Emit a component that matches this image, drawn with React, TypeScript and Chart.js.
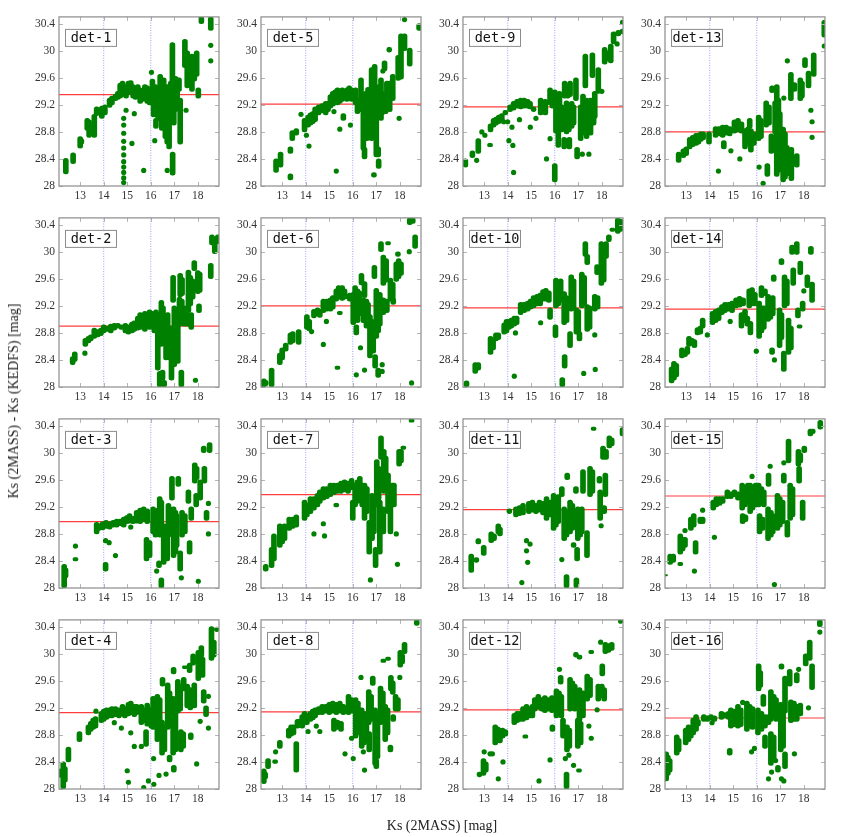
import React, { useEffect, useRef } from 'react';
import Chart from 'chart.js/auto';

// ---------------- data ----------------
const panelNames = ['det-1', 'det-2', 'det-3', 'det-4', 'det-5', 'det-6', 'det-7', 'det-8',
  'det-9', 'det-10', 'det-11', 'det-12', 'det-13', 'det-14', 'det-15', 'det-16'];
const offsetLevels = [29.35, 28.9, 28.98, 29.13, 29.21, 29.2, 29.38, 29.14,
  29.17, 29.17, 29.16, 29.17, 28.8, 29.15, 29.36, 29.05];
const xTickValues = [13, 14, 15, 16, 17, 18];
const yTickValues = [28, 28.4, 28.8, 29.2, 29.6, 30, 30.4];
const guideMags = [14, 16];
const xRange = [12.1, 18.9];
const yRange = [28, 30.5];

// entries: [Ks, low, high] for a run of stars at one magnitude, [Ks, offset] for a single star
const det1 = [
  [12.39, 28.18, 28.41], [12.7, 28.33, 28.49], [13.0, 28.56, 28.73], [13.05, 28.62, 28.7],
  [13.3, 28.82, 29.0], [13.38, 28.72, 28.98], [13.6, 28.72, 29.06], [13.7, 29.04, 29.17],
  [13.92, 29.0, 29.18], [14.05, 29.05, 29.2], [14.25, 29.16, 29.3], [14.35, 29.2, 29.33], [14.5, 29.26, 29.36], [14.6, 29.28, 29.4],
  [14.7, 29.3, 29.52], [14.8, 29.32, 29.55], [14.95, 29.3, 29.5], [15.05, 29.35, 29.55], [15.15, 29.38, 29.56], [15.25, 29.3, 29.5], [15.35, 29.28, 29.46], [15.45, 29.3, 29.5],
  [15.55, 29.22, 29.45], [15.65, 29.25, 29.42], [15.75, 29.28, 29.5], [15.85, 29.22, 29.48], [15.95, 29.2, 29.38],
  [14.85, 28.05], [14.85, 28.12], [14.85, 28.2], [14.85, 28.28], [14.85, 28.36], [14.85, 28.46], [14.85, 28.56], [14.85, 28.66], [14.85, 28.78], [14.85, 28.9], [14.85, 29.0],
  [14.95, 29.12], [15.2, 28.63], [15.3, 29.07], [15.7, 28.23],
  [16.03, 29.68], [16.07, 29.35, 29.58], [16.12, 29.02, 29.45], [16.2, 29.1, 29.5], [16.3, 29.0, 29.4], [16.17, 28.67], [16.22, 28.85, 29.0],
  [16.4, 28.96, 29.65], [16.47, 28.82, 29.55], [16.55, 29.0, 29.6], [16.62, 28.7, 29.45], [16.7, 28.62, 29.5], [16.78, 28.55, 29.3], [16.85, 29.1, 29.55],
  [16.92, 29.3, 30.12], [16.93, 28.16, 28.5], [16.7, 28.23], [16.98, 28.9, 29.4], [17.05, 29.1, 29.62], [17.12, 29.25, 29.55], [17.25, 28.62, 29.3], [17.2, 29.4, 29.6],
  [17.5, 29.12], [17.45, 29.75, 30.17], [17.55, 29.45, 30.0], [17.65, 29.5, 29.85], [17.75, 29.4, 29.95], [17.85, 29.55, 29.9], [17.95, 29.62, 30.0], [18.02, 29.3, 29.45],
  [18.15, 30.4, 30.5], [18.55, 30.3, 30.5], [18.55, 30.08], [18.55, 29.85],
];
const det2 = [
  [12.68, 28.33, 28.45], [12.77, 28.38, 28.52], [13.2, 28.5], [13.22, 28.6, 28.72], [13.35, 28.65, 28.75], [13.45, 28.68, 28.77],
  [13.6, 28.72, 28.87], [13.75, 28.74, 28.85], [13.88, 28.76, 28.87], [14.0, 28.8, 28.92], [14.15, 28.82, 28.9], [14.3, 28.8, 28.93], [14.45, 28.84, 28.94], [14.6, 28.87, 28.94], [14.75, 28.85, 28.92],
  [14.92, 28.8, 28.94], [15.05, 28.78, 28.92], [15.2, 28.8, 28.96], [15.3, 28.82, 28.98], [15.45, 28.84, 29.05], [15.55, 28.85, 29.1], [15.65, 28.86, 29.08], [15.75, 28.82, 29.12], [15.85, 28.88, 29.1], [15.95, 28.85, 29.14], [16.05, 28.9, 29.12],
  [16.15, 28.8, 29.1], [16.22, 28.85, 29.14], [16.3, 28.25, 29.1], [16.38, 28.0, 28.23], [16.45, 28.6, 29.28], [16.52, 28.75, 29.2], [16.5, 28.1, 28.25], [16.57, 28.0, 28.1],
  [16.65, 28.4, 29.0], [16.72, 28.55, 29.1], [16.8, 28.4, 28.9], [16.88, 28.1, 28.9], [16.95, 29.25, 29.65], [17.0, 28.3, 29.2], [17.07, 28.5, 29.15], [17.15, 28.35, 29.0],
  [17.25, 29.33, 29.68], [17.33, 29.35, 29.62], [17.3, 28.0, 28.25], [17.22, 28.9, 29.33], [17.32, 28.95, 29.3], [17.42, 28.9, 29.2], [17.55, 28.9, 29.1],
  [17.6, 29.1, 29.73], [17.68, 29.2, 29.65], [17.72, 28.85, 29.1], [17.78, 29.3, 29.6], [17.85, 29.72, 29.87], [17.9, 28.1], [18.0, 29.38, 29.72], [18.08, 29.4, 29.7], [18.05, 29.1, 29.23],
  [18.55, 29.6, 29.83], [18.6, 30.1, 30.25], [18.72, 29.97, 30.22], [18.85, 30.12, 30.25],
];
const det3 = [
  [12.32, 28.0, 28.35], [12.38, 28.15, 28.3], [12.8, 28.62], [12.8, 28.4, 28.45],
  [13.7, 28.8, 28.97], [13.8, 28.85, 28.95], [13.95, 28.86, 28.98], [14.1, 28.88, 29.0], [14.25, 28.87, 28.98], [14.4, 28.9, 29.0], [14.08, 28.7], [14.23, 28.67], [14.08, 28.25, 28.38], [14.5, 28.48],
  [14.55, 28.9, 29.02], [14.7, 28.92, 29.02], [14.85, 28.9, 29.05], [14.98, 28.95, 29.07], [15.1, 28.96, 29.1], [15.25, 28.95, 29.06], [15.15, 28.9],
  [15.4, 28.96, 29.15], [15.55, 28.95, 29.18], [15.7, 28.98, 29.2], [15.85, 28.95, 29.17], [15.82, 28.4, 28.75], [15.95, 28.45, 28.7],
  [16.1, 28.8, 29.2], [16.2, 28.75, 29.1], [16.3, 28.85, 29.18], [16.25, 28.25], [16.38, 28.75, 29.35], [16.45, 28.8, 29.3], [16.45, 28.0, 28.15], [16.35, 28.3, 28.4],
  [16.55, 28.35, 28.95], [16.62, 28.5, 28.9], [16.7, 28.4, 28.95], [16.75, 28.75, 29.25], [16.82, 28.8, 29.2], [16.9, 29.3, 29.65], [16.97, 28.45, 29.2], [17.05, 28.5, 29.15], [17.1, 28.6, 29.1],
  [17.17, 29.5, 29.65], [17.25, 28.25, 28.55], [17.3, 28.15], [17.33, 28.75, 29.15], [17.45, 28.8, 29.1], [17.6, 29.25, 29.45], [17.65, 28.5, 28.7], [17.72, 29.0, 29.2],
  [17.87, 29.55, 29.85], [17.95, 29.6, 29.8], [17.93, 29.2, 29.4], [18.02, 28.1], [18.1, 29.3, 29.6], [18.25, 30.0, 30.1], [18.28, 29.55, 29.8], [18.37, 29.0, 29.15], [18.45, 29.25], [18.45, 28.8], [18.5, 30.0, 30.15],
];
const det4 = [
  [12.1, 28.17, 28.3], [12.28, 28.0, 28.4], [12.35, 28.1, 28.33], [12.5, 28.4, 28.62], [12.97, 28.7, 28.85],
  [13.35, 28.8, 28.95], [13.45, 28.85, 29.0], [13.55, 28.88, 29.05], [13.65, 28.9, 29.07], [13.67, 29.15],
  [13.9, 28.98, 29.15], [14.0, 29.0, 29.18], [14.12, 29.03, 29.2], [14.25, 29.05, 29.2], [14.35, 29.05, 29.22], [14.45, 28.98], [14.5, 29.07, 29.22], [14.65, 29.05, 29.2], [14.75, 28.9], [14.8, 29.08, 29.25], [14.9, 29.05, 29.22],
  [15.0, 28.27], [15.05, 28.1], [15.15, 28.83], [15.05, 29.08, 29.28], [15.15, 29.1, 29.3], [15.3, 29.07, 29.25], [15.4, 29.1, 29.25], [15.3, 28.63], [15.6, 28.63],
  [15.6, 28.95, 29.25], [15.7, 28.98, 29.2], [15.8, 28.63, 28.88], [15.85, 28.93, 29.27], [15.95, 28.95, 29.2], [15.7, 28.02], [15.9, 28.12],
  [16.02, 28.9, 29.2], [16.1, 28.88, 29.37], [16.2, 28.95, 29.3], [16.12, 28.45], [16.13, 28.07], [16.28, 28.7, 29.4], [16.38, 28.8, 29.35], [16.35, 28.2], [16.5, 29.52, 29.65],
  [16.48, 28.5, 29.02], [16.58, 28.55, 28.95], [16.65, 28.22], [16.72, 28.88, 29.57], [16.8, 28.9, 29.45], [16.8, 28.4, 28.5], [16.97, 29.7, 29.8], [16.98, 28.25, 28.35],
  [16.95, 28.5, 29.37], [17.05, 28.55, 29.3], [17.15, 29.12, 29.62], [17.25, 29.15, 29.55], [17.28, 28.55, 28.88], [17.38, 28.6, 28.85], [17.4, 29.45, 29.65], [17.45, 29.78, 29.82],
  [17.55, 29.2, 29.55], [17.65, 29.72, 29.86], [17.68, 29.17, 29.5], [17.7, 28.73, 28.83], [17.8, 29.83, 30.0], [17.85, 29.2, 29.57], [17.95, 28.37],
  [18.02, 29.6, 30.05], [18.1, 29.0], [18.15, 29.95, 30.12], [18.2, 29.65, 29.95], [18.25, 29.27, 29.47], [18.35, 29.07, 29.23], [18.45, 29.37], [18.45, 28.9], [18.58, 29.9, 30.4], [18.68, 29.95, 30.2], [18.8, 30.36],
];
const det5 = [
  [12.74, 28.2, 28.4], [12.93, 28.28, 28.5], [13.35, 28.48, 28.58], [13.35, 28.09, 28.18], [13.43, 28.67, 28.82], [13.6, 28.75, 28.85], [13.8, 29.06],
  [13.95, 28.8, 29.0], [14.03, 28.75], [14.14, 28.59], [14.1, 28.87, 29.05], [14.2, 28.9, 29.08], [14.3, 28.92, 29.1], [14.4, 28.95, 29.17],
  [14.55, 29.05, 29.2], [14.7, 29.08, 29.22], [14.85, 29.05, 29.25], [14.95, 29.1, 29.25],
  [15.05, 29.15, 29.35], [15.15, 29.18, 29.4], [15.2, 29.1], [15.25, 29.2, 29.42], [15.35, 29.2, 29.45], [15.45, 29.22, 29.4], [15.55, 29.25, 29.45], [15.3, 28.22], [15.45, 28.84], [15.6, 28.97, 29.07],
  [15.75, 29.25, 29.45], [15.85, 29.28, 29.48], [15.95, 29.25, 29.45], [16.05, 29.25, 29.42], [16.12, 29.2, 29.45], [15.9, 28.9],
  [16.2, 29.07, 29.3], [16.35, 29.1, 29.6], [16.45, 28.53, 29.26], [16.5, 28.4, 28.57], [16.55, 29.0, 29.4], [16.6, 28.67, 29.26], [16.65, 29.1, 29.46], [16.72, 28.8, 29.3],
  [16.8, 28.67, 29.75], [16.88, 28.97, 29.56], [16.93, 29.07, 29.8], [17.0, 28.43, 29.1], [17.08, 28.43, 28.58], [17.1, 28.26, 28.4], [16.9, 28.13, 28.2], [17.1, 29.0, 29.5],
  [17.2, 28.97, 29.6], [17.25, 29.05, 29.4], [17.28, 29.7], [17.35, 29.7, 29.85], [17.4, 29.07, 29.36], [17.45, 29.3, 29.55], [17.55, 29.98, 30.05], [17.57, 29.1, 29.55], [17.7, 29.26, 29.65],
  [17.93, 29.56, 29.93], [17.97, 29.0], [18.05, 29.58, 30.25], [18.2, 30.0, 30.25], [18.42, 29.77, 30.04], [18.2, 30.46], [18.82, 30.3, 30.4],
];
const det6 = [
  [12.22, 28.0, 28.12], [12.3, 28.02, 28.1], [12.55, 28.0, 28.28], [12.9, 28.33, 28.5], [13.0, 28.4, 28.58], [13.15, 28.53, 28.65], [13.35, 28.63, 28.8], [13.45, 28.65, 28.82], [13.7, 28.63, 28.85],
  [14.05, 28.85, 29.07], [14.15, 28.83, 29.0], [14.25, 28.82], [14.35, 29.02, 29.15], [14.5, 29.05, 29.17], [14.6, 29.03, 29.15], [14.75, 28.63], [14.88, 28.97],
  [14.75, 29.1, 29.3], [14.9, 29.12, 29.3], [15.05, 29.12, 29.32], [15.15, 29.15, 29.35], [15.3, 29.27, 29.45], [15.4, 29.3, 29.5], [15.55, 29.28, 29.5], [15.65, 29.3, 29.45], [15.35, 28.26, 28.31], [15.45, 29.07, 29.12],
  [15.87, 29.27, 29.39], [16.02, 28.92, 29.4], [16.1, 29.0, 29.5], [16.2, 28.95, 29.45], [16.28, 29.05, 29.42], [16.15, 28.77, 28.92], [16.33, 28.58], [16.37, 29.51, 29.68], [16.15, 28.18],
  [16.45, 28.95, 29.32], [16.5, 29.32, 29.56], [16.58, 28.87, 29.3], [16.65, 28.95, 29.25], [16.5, 28.25],
  [16.73, 28.43, 29.07], [16.82, 28.6, 29.0], [16.87, 28.5, 28.95], [16.95, 28.28, 28.48], [16.92, 29.6, 29.8], [17.0, 28.72, 29.46], [17.08, 28.8, 29.3], [17.15, 28.9, 29.4], [17.08, 28.14, 28.28],
  [17.25, 28.23], [17.25, 28.33], [17.2, 30.0, 30.15], [17.3, 29.5, 29.95], [17.42, 29.55, 29.9], [17.3, 29.07, 29.32], [17.45, 29.1, 29.3], [17.5, 30.1, 30.15],
  [17.6, 29.27, 29.61], [17.7, 29.3, 29.55], [17.72, 29.22, 29.32], [17.85, 29.56, 29.85], [17.95, 29.6, 29.9], [18.05, 29.65, 29.85], [17.92, 29.93, 30.0],
  [18.4, 30.0], [18.42, 30.4, 30.5], [18.55, 30.42, 30.5], [18.65, 30.05, 30.25], [18.5, 28.06],
];
const det7 = [
  [12.3, 28.25, 28.35], [12.55, 28.3, 28.6], [12.65, 28.4, 28.8], [12.9, 28.6, 28.95], [13.0, 28.65, 28.9], [13.1, 28.7, 28.95],
  [13.3, 28.85, 29.05], [13.45, 28.88, 29.05], [13.6, 28.9, 29.08], [13.95, 29.0, 29.3], [14.05, 29.05, 29.25], [14.2, 29.1, 29.35], [14.35, 29.15, 29.35], [14.5, 29.2, 29.4],
  [14.35, 28.8], [14.75, 28.95], [14.8, 28.77],
  [14.6, 29.25, 29.45], [14.75, 29.3, 29.5], [14.9, 29.32, 29.5], [15.05, 29.35, 29.55], [15.2, 29.38, 29.55], [15.35, 29.4, 29.55], [15.3, 29.2, 29.25], [15.5, 29.4, 29.58],
  [15.65, 29.42, 29.6], [15.8, 29.4, 29.58], [15.95, 29.45, 29.62], [16.0, 29.0, 29.3], [16.1, 29.2, 29.55], [16.2, 29.25, 29.6], [16.3, 29.5, 29.65], [16.4, 29.2, 29.55],
  [16.5, 29.0, 29.55], [16.6, 29.1, 29.5], [16.7, 28.5, 29.0], [16.75, 28.12], [16.82, 28.7, 29.4], [16.9, 28.8, 29.3], [16.97, 28.3, 28.6],
  [17.02, 29.2, 29.9], [17.1, 29.3, 29.8], [17.15, 28.5, 29.3], [17.2, 29.9, 30.25], [17.32, 29.4, 30.05], [17.4, 29.5, 29.95], [17.3, 28.8, 29.2],
  [17.5, 29.1, 29.7], [17.6, 28.8, 29.4], [17.68, 29.2, 29.55], [17.75, 29.2, 29.55], [17.85, 28.8], [17.9, 28.35], [17.97, 29.8, 30.05], [18.05, 29.85, 30.05], [18.15, 30.05, 30.1], [18.5, 30.45, 30.5],
];
const det8 = [
  [12.22, 28.08, 28.3], [12.28, 28.15, 28.25], [12.4, 28.3, 28.45], [12.7, 28.38, 28.43], [12.72, 28.55], [12.9, 28.6, 28.72],
  [13.28, 28.75, 28.9], [13.38, 28.78, 28.95], [13.48, 28.8, 28.95], [13.6, 28.25, 28.7], [13.65, 28.9, 29.03], [13.75, 28.92, 29.03],
  [13.85, 28.9, 29.1], [13.95, 28.95, 29.15], [14.05, 28.95, 29.12], [14.1, 28.85], [14.2, 29.0, 29.15], [14.3, 29.02, 29.18], [14.4, 29.05, 29.2], [14.45, 28.93], [14.6, 28.85],
  [14.55, 29.1, 29.22], [14.7, 29.1, 29.25], [14.85, 29.12, 29.25], [15.0, 29.1, 29.28], [15.15, 29.12, 29.3], [15.3, 29.1, 29.28], [15.45, 29.12, 29.3], [15.6, 29.1, 29.25],
  [15.2, 28.85, 29.05], [15.35, 28.88, 29.02], [15.5, 28.85, 29.0], [15.67, 28.52],
  [15.82, 29.1, 29.4], [15.95, 29.12, 29.35], [15.95, 28.75], [16.02, 28.45], [16.12, 28.75, 29.35], [16.22, 28.8, 29.3], [16.35, 29.65],
  [16.38, 28.6, 29.2], [16.48, 28.65, 29.15], [16.58, 28.7, 29.0], [16.45, 28.55], [16.5, 28.28],
  [16.68, 28.95, 29.47], [16.78, 29.0, 29.4], [16.7, 28.55, 28.85], [16.85, 29.53, 29.67], [16.95, 28.35, 29.2], [17.05, 28.45, 29.1], [17.0, 28.3, 28.45],
  [17.18, 28.95, 29.52], [17.28, 29.0, 29.45], [17.3, 29.87, 29.92], [17.38, 28.7, 29.25], [17.48, 28.8, 29.2], [17.5, 29.9, 29.95], [17.6, 28.55, 28.65],
  [17.62, 29.45, 29.68], [17.7, 29.4, 29.6], [17.72, 29.0, 29.1], [17.82, 29.15, 29.4], [17.92, 29.15, 29.35], [18.02, 29.8, 30.05], [18.1, 29.85, 30.0], [18.2, 30.0, 30.17], [18.0, 29.65], [18.72, 30.42, 30.5],
];
const det9 = [
  [12.2, 28.28, 28.4], [12.5, 28.42, 28.52], [12.68, 28.38], [12.75, 28.48, 28.7], [12.9, 28.8], [13.03, 28.75], [13.25, 28.58, 28.63], [13.27, 28.8, 28.92],
  [13.4, 28.87, 29.0], [13.5, 28.9, 29.02], [13.62, 28.92, 29.05], [13.75, 28.95, 29.07], [13.83, 28.95], [13.9, 29.05, 29.12], [14.0, 28.95],
  [14.05, 28.67], [14.22, 28.6], [14.25, 28.2], [14.18, 28.87],
  [14.1, 29.1, 29.2], [14.25, 29.12, 29.25], [14.4, 29.15, 29.28], [14.55, 29.14, 29.3], [14.7, 29.15, 29.3], [14.85, 29.15, 29.28], [14.95, 29.14, 29.25], [14.5, 28.98], [14.96, 28.87],
  [15.1, 29.1, 29.17], [15.2, 29.0], [15.4, 29.05, 29.3], [15.5, 29.08, 29.25], [15.6, 29.05, 29.28], [15.65, 28.4],
  [15.8, 29.2, 29.45], [15.9, 29.15, 29.4], [16.0, 29.2, 29.42], [15.8, 28.7], [16.0, 28.06, 28.33],
  [16.05, 28.78, 29.3], [16.15, 28.57, 28.92], [16.2, 28.85, 29.4], [16.3, 28.8, 29.2],
  [16.42, 29.3, 29.55], [16.55, 29.3, 29.5], [16.65, 29.32, 29.55], [16.4, 28.55, 28.72], [16.52, 28.58, 28.7], [16.62, 28.55, 28.72],
  [16.5, 28.77, 29.26], [16.6, 28.8, 29.2], [16.72, 28.85, 29.25], [16.8, 28.9, 29.2], [16.9, 29.26, 29.6], [16.95, 28.4, 28.57], [17.17, 28.47],
  [17.1, 28.67, 29.2], [17.2, 28.75, 29.36], [17.3, 29.45, 29.95], [17.35, 28.7, 29.3], [17.45, 28.8, 29.2], [17.45, 28.47],
  [17.52, 28.75, 29.3], [17.6, 29.6, 29.97], [17.65, 28.9, 29.3], [17.7, 29.0, 29.4], [17.85, 29.37, 29.75], [18.0, 29.4],
  [18.12, 29.8, 30.05], [18.25, 29.85, 30.0], [18.38, 29.82, 30.1], [18.5, 30.1, 30.28], [18.65, 30.1], [18.7, 30.22, 30.3], [18.88, 30.25, 30.32], [18.88, 30.42],
];
const det10 = [
  [12.25, 28.0, 28.09], [12.62, 28.2, 28.36], [12.75, 28.25, 28.36], [13.27, 28.48, 28.75], [13.38, 28.55, 28.72], [13.5, 28.68, 28.8], [13.6, 28.7, 28.8],
  [13.85, 28.78, 28.95], [13.95, 28.8, 29.0], [14.05, 28.85, 29.0], [14.15, 28.87, 29.02], [14.28, 28.9, 29.05], [14.38, 28.92, 29.05], [14.28, 28.16], [14.33, 28.8],
  [14.55, 29.07, 29.25], [14.7, 29.1, 29.25], [14.85, 29.12, 29.27], [14.97, 29.15, 29.3], [15.1, 29.17, 29.35], [15.25, 29.2, 29.37], [15.38, 29.2, 29.39], [15.4, 28.95],
  [15.5, 29.27, 29.44], [15.62, 29.27, 29.46], [15.75, 29.25, 29.42], [15.8, 29.0, 29.17], [16.03, 28.73, 28.92], [16.05, 29.17, 29.61], [16.15, 29.2, 29.55], [16.25, 29.25, 29.6],
  [16.32, 28.0, 28.14], [16.42, 28.28, 28.48], [16.4, 28.92, 29.41], [16.5, 28.95, 29.35], [16.65, 28.58, 28.82], [16.7, 29.12, 29.66], [16.8, 29.15, 29.6],
  [16.92, 28.78, 29.17], [17.0, 28.8, 29.15], [17.05, 28.68, 28.82], [17.15, 29.17, 29.7], [17.25, 29.2, 29.65], [17.23, 28.2], [17.3, 29.93, 30.15], [17.38, 28.82, 29.22], [17.48, 28.85, 29.2],
  [17.38, 29.81, 29.96], [17.7, 28.77], [17.72, 28.26], [17.8, 29.66, 29.81], [17.7, 29.12, 29.37], [17.82, 29.15, 29.35],
  [17.98, 29.5, 30.15], [18.08, 29.55, 30.1], [18.18, 29.9, 30.15], [18.3, 30.15, 30.25], [18.45, 30.3, 30.35], [18.68, 30.27, 30.5], [18.8, 30.3, 30.48],
];
const det11 = [
  [12.45, 28.23, 28.5], [12.67, 28.38, 28.45], [12.75, 28.65, 28.73], [12.98, 28.48, 28.63], [13.3, 28.67, 28.83], [13.42, 28.7, 28.8], [13.6, 28.8, 28.95], [13.67, 28.77, 28.9],
  [14.07, 29.1, 29.17], [14.35, 29.05, 29.2], [14.5, 29.07, 29.22], [14.65, 29.08, 29.25], [14.8, 28.55], [14.8, 28.7], [14.85, 28.38], [14.95, 28.65], [14.6, 28.08],
  [14.9, 29.1, 29.28], [15.05, 29.12, 29.3], [15.2, 29.1, 29.25], [15.35, 29.12, 29.3], [15.5, 29.08, 29.28],
  [15.65, 29.0, 29.35], [15.8, 29.05, 29.3], [15.95, 28.85, 29.4], [16.05, 28.9, 29.35], [16.15, 28.95, 29.38], [16.3, 29.35, 29.5], [16.3, 28.42],
  [16.4, 28.7, 29.2], [16.5, 28.75, 29.15], [16.5, 28.0, 28.2], [16.53, 29.6, 29.7], [16.65, 28.8, 29.3], [16.75, 28.85, 29.25], [16.8, 28.6, 28.67], [16.9, 29.4, 29.5], [16.92, 28.0, 28.15], [16.95, 28.4, 28.6],
  [16.98, 28.7, 29.2], [17.08, 28.75, 29.15], [17.15, 28.8, 29.2], [17.2, 29.4, 29.75], [17.37, 28.45, 28.85], [17.5, 29.35, 29.8], [17.6, 29.4, 29.75], [17.65, 30.33, 30.38],
  [17.9, 29.55, 29.65], [17.93, 29.0, 29.45], [17.97, 28.92], [18.05, 29.9, 30.1], [18.18, 29.9, 30.05], [18.1, 29.1, 29.22], [18.15, 29.35, 29.7], [18.32, 30.07, 30.25], [18.42, 30.1, 30.22], [18.88, 30.25, 30.37],
];
const det12 = [
  [12.8, 28.18, 28.25], [12.97, 28.2, 28.45], [13.07, 28.25, 28.4], [13.0, 28.55], [13.25, 28.52], [13.35, 28.52],
  [13.47, 28.65, 28.95], [13.57, 28.7, 28.92], [13.67, 28.68, 28.9], [13.6, 28.15], [13.78, 28.75, 28.9], [13.9, 28.78, 28.88], [13.8, 28.4],
  [14.28, 28.95, 29.12], [14.4, 28.98, 29.15], [14.52, 29.0, 29.15], [14.65, 29.0, 29.22], [14.8, 29.02, 29.25], [14.95, 29.05, 29.22], [15.05, 29.05, 29.25], [14.75, 28.75, 28.8],
  [15.15, 29.15, 29.35], [15.3, 29.18, 29.4], [15.45, 29.15, 29.35], [15.33, 28.12], [15.58, 29.13, 29.38], [15.72, 29.15, 29.35], [15.88, 29.13, 29.38], [15.8, 28.43], [15.9, 28.85, 28.95],
  [16.07, 29.05, 29.48], [16.18, 29.1, 29.45], [16.28, 29.05, 29.4], [16.25, 29.55, 29.68], [16.2, 29.77], [16.35, 28.75, 29.05],
  [16.5, 28.0, 28.25], [16.45, 28.45], [16.6, 28.5], [16.52, 28.55, 28.95], [16.62, 28.6, 28.9], [16.65, 29.15, 29.65], [16.75, 29.2, 29.6], [16.85, 29.15, 29.55], [16.8, 28.35],
  [16.9, 29.95, 30.02], [17.05, 29.92, 29.98], [16.98, 28.6, 29.05], [17.1, 28.65, 29.0], [17.03, 28.25, 28.3], [17.05, 29.0, 29.5], [17.2, 29.05, 29.45],
  [17.38, 29.3, 29.7], [17.5, 29.35, 29.65], [17.45, 28.93], [17.55, 30.0, 30.05], [17.55, 28.75], [17.8, 29.17], [17.85, 29.3, 29.55], [18.0, 29.35, 29.55], [18.1, 29.3, 29.5],
  [18.02, 29.67, 29.85], [17.95, 30.17], [18.15, 30.0, 30.17], [18.28, 30.02, 30.15], [18.42, 30.05, 30.17], [18.8, 30.48],
];
const det13 = [
  [12.68, 28.35, 28.5], [12.88, 28.42, 28.55], [13.0, 28.45, 28.58], [13.15, 28.55, 28.72], [13.28, 28.58, 28.75], [13.42, 28.6, 28.78], [13.52, 28.62, 28.78],
  [13.62, 28.66, 28.8], [13.72, 28.68, 28.8], [13.97, 28.62, 28.8], [14.37, 28.22],
  [14.25, 28.72, 28.88], [14.4, 28.74, 28.88], [14.55, 28.72, 28.9], [14.7, 28.75, 28.9], [14.85, 28.74, 28.88], [14.6, 28.55, 28.67], [14.9, 28.52],
  [15.05, 28.78, 28.98], [15.2, 28.8, 29.0], [15.35, 28.78, 28.95], [15.28, 28.4], [15.5, 28.55, 28.85], [15.62, 28.6, 28.87], [15.75, 28.5, 28.85], [15.88, 28.6, 28.8], [15.7, 28.85, 29.0],
  [16.1, 28.28], [16.27, 28.04], [16.08, 28.67, 29.05], [16.18, 28.7, 29.0],
  [16.4, 28.87, 29.26], [16.52, 28.9, 29.2], [16.45, 28.14, 28.33], [16.65, 29.38, 29.48], [16.62, 28.48, 28.77], [16.72, 28.5, 28.75],
  [16.78, 28.77, 29.26], [16.85, 28.14, 29.5], [16.92, 28.2, 29.3], [16.98, 28.3, 29.1], [17.12, 28.06, 28.87], [17.2, 28.1, 28.8], [17.28, 28.15, 28.6], [17.15, 29.3], [17.3, 29.85],
  [17.45, 29.26, 29.68], [17.47, 28.08, 28.57], [17.6, 29.4, 29.53], [17.7, 28.28, 28.48], [17.85, 29.26, 29.6], [17.92, 29.3, 29.55], [18.05, 29.75, 29.9], [18.2, 29.45, 29.7],
  [18.3, 29.12], [18.35, 28.95], [18.35, 28.72], [18.42, 29.62, 29.97], [18.87, 30.2, 30.45], [18.87, 30.07],
];
const det14 = [
  [12.38, 28.06, 28.3], [12.48, 28.1, 28.38], [12.58, 28.15, 28.35], [12.82, 28.43, 28.58], [12.95, 28.45, 28.55], [13.05, 28.48, 28.6],
  [13.12, 28.6, 28.75], [13.25, 28.62, 28.72], [13.35, 28.58, 28.7], [13.48, 28.77, 28.88], [13.6, 28.78, 28.9], [13.7, 28.87, 29.02], [13.9, 28.77],
  [14.12, 28.92, 29.12], [14.25, 28.95, 29.15], [14.38, 28.98, 29.17], [14.52, 29.07, 29.22], [14.65, 29.1, 29.25], [14.8, 29.12, 29.25], [14.95, 29.1, 29.27], [14.87, 28.97],
  [15.12, 29.17, 29.32], [15.27, 29.18, 29.34], [15.42, 29.2, 29.32], [15.35, 28.87, 29.1], [15.5, 28.95, 29.15], [15.6, 28.9, 29.05],
  [15.68, 29.17, 29.45], [15.8, 29.2, 29.47], [15.92, 29.2, 29.4], [15.73, 28.77, 28.97], [15.98, 28.53],
  [16.1, 28.72, 29.27], [16.2, 28.8, 29.2], [16.3, 28.85, 29.2], [16.2, 29.32, 29.5], [16.35, 29.35, 29.45],
  [16.48, 28.97, 29.37], [16.58, 29.0, 29.3], [16.68, 29.05, 29.35], [16.65, 28.48, 28.58], [16.75, 28.4], [16.72, 29.56, 29.66],
  [16.97, 28.58, 29.17], [17.05, 28.7, 29.1], [17.05, 29.81, 29.9], [17.15, 28.23, 28.53], [17.18, 29.17, 29.66], [17.28, 29.2, 29.6], [17.35, 28.48, 29.02], [17.45, 28.55, 28.9],
  [17.5, 29.96, 30.1], [17.55, 29.5, 29.76], [17.7, 29.96, 30.15], [17.75, 29.02, 29.17], [17.85, 29.66, 29.86], [17.82, 28.87, 28.92], [17.95, 29.12, 29.27], [18.0, 29.42],
  [18.15, 29.47, 29.66], [18.3, 29.96, 30.08], [18.35, 29.25, 29.55],
];
const det15 = [
  [12.1, 28.18, 28.2], [12.32, 28.35, 28.5], [12.45, 28.38, 28.5], [12.75, 28.5, 28.8], [12.85, 28.55, 28.75], [12.95, 28.6, 28.75], [12.75, 28.33, 28.38], [12.95, 28.85],
  [13.2, 28.85, 29.05], [13.32, 28.9, 29.1], [13.4, 28.5, 28.7], [13.35, 28.25], [13.6, 28.95, 29.05], [13.7, 28.95, 29.05], [13.7, 29.15],
  [14.2, 28.75], [14.15, 29.15, 29.3], [14.28, 29.2, 29.35], [14.42, 29.22, 29.35], [14.55, 29.25, 29.35],
  [14.75, 29.32, 29.45], [14.9, 29.32, 29.42], [15.05, 29.35, 29.45], [15.2, 29.3, 29.42],
  [15.38, 29.15, 29.55], [15.5, 29.2, 29.5], [15.62, 29.25, 29.55], [15.4, 28.95, 29.1], [15.52, 28.98, 29.08],
  [15.72, 29.1, 29.55], [15.82, 29.15, 29.5], [15.95, 29.2, 29.55], [15.8, 29.65],
  [16.08, 29.2, 29.55], [16.2, 29.25, 29.5], [16.3, 29.2, 29.45], [16.12, 28.8, 29.1], [16.25, 28.85, 29.05],
  [16.5, 29.5, 29.7], [16.57, 29.8], [16.48, 28.7, 29.2], [16.6, 28.75, 29.15], [16.68, 28.8, 29.1], [16.75, 28.05],
  [16.88, 28.85, 29.4], [16.98, 28.9, 29.35], [17.1, 28.95, 29.3], [17.15, 29.55, 29.7], [17.15, 29.85], [17.3, 28.75, 29.0], [17.35, 29.85, 30.2],
  [17.42, 29.0, 29.55], [17.52, 29.05, 29.5], [17.77, 29.8, 30.05], [17.85, 29.85, 30.0], [17.8, 29.55, 29.8], [17.95, 29.0, 29.3], [18.02, 30.0, 30.1],
  [18.28, 30.25, 30.35], [18.38, 30.28, 30.35], [18.7, 30.35, 30.48],
];
const det16 = [
  [12.15, 28.12, 28.55], [12.22, 28.2, 28.5], [12.3, 28.25, 28.45], [12.6, 28.5, 28.8], [12.68, 28.55, 28.75],
  [12.98, 28.65, 28.9], [13.1, 28.7, 28.95], [13.2, 28.75, 28.92], [13.3, 28.8, 29.05], [13.42, 28.85, 29.1], [13.5, 28.93, 29.03],
  [13.75, 29.0, 29.1], [13.9, 29.0, 29.08], [14.05, 29.02, 29.1], [14.1, 28.98], [14.2, 29.0, 29.08],
  [14.5, 29.03, 29.15], [14.65, 29.05, 29.13], [14.8, 29.03, 29.15], [14.85, 28.5, 28.6], [14.9, 28.9, 29.2], [15.05, 28.92, 29.18], [15.2, 28.9, 29.25], [15.32, 28.92, 29.2], [15.4, 29.28],
  [15.58, 28.85, 29.3], [15.7, 28.9, 29.25], [15.82, 28.88, 29.22], [15.78, 28.55], [15.9, 28.6],
  [16.08, 29.45, 29.85], [16.15, 29.5, 29.75], [16.05, 28.8, 29.2], [16.2, 28.85, 29.15], [16.35, 28.9, 29.1], [16.28, 29.22, 29.4], [16.35, 28.6, 28.8], [16.5, 28.95, 29.1], [16.5, 28.15],
  [16.6, 29.0, 29.47], [16.72, 29.05, 29.4], [16.82, 29.0, 29.35], [16.6, 28.35, 28.85], [16.72, 28.4, 28.8], [16.8, 28.42], [16.63, 28.25], [16.9, 28.25, 28.35],
  [17.02, 28.55, 29.28], [17.12, 28.6, 29.2], [17.05, 29.77, 29.85], [17.05, 28.15], [17.15, 28.12], [17.2, 29.12, 29.67], [17.2, 28.3, 28.55],
  [17.4, 29.52, 29.77], [17.45, 28.98, 29.32], [17.58, 29.0, 29.3], [17.6, 28.52], [17.7, 29.57, 29.72], [17.7, 29.0, 29.25], [17.78, 29.77], [17.85, 29.08, 29.27],
  [18.08, 29.82, 30.0], [18.2, 29.2], [18.25, 29.9, 30.2], [18.35, 29.47, 29.85], [18.68, 30.4, 30.5], [18.68, 30.32],
];
const panelData = [det1, det2, det3, det4, det5, det6, det7, det8, det9, det10, det11, det12, det13, det14, det15, det16];

// ---------------- layout / style ----------------
const PLOT_LEFTS = [59, 261, 463, 665];
const PLOT_TOPS = [16, 217, 418, 619];
const PLOT_W = 160;
const PLOT_H = 170;
const PAD_L = 50, PAD_T = 10, PAD_R = 8, PAD_B = 24;
const GREEN = '#008000';
const SERIF = '"Liberation Serif", "Times New Roman", serif';
const MONO = '"DejaVu Sans Mono", monospace';

const fmt = (v: number) => String(+Number(v).toFixed(1));

function Panel({ idx }: { idx: number }) {
  const ref = useRef<HTMLCanvasElement>(null);
  const col = Math.floor(idx / 4);
  const row = idx % 4;
  const W = PAD_L + PLOT_W + PAD_R;
  const H = PAD_T + PLOT_H + PAD_B;

  useEffect(() => {
    const data = panelData[idx];
    const runs = data.filter((p) => p.length === 3).map((p) => ({ x: p[0], y: [p[1], p[2]] }));
    const stars = data.filter((p) => p.length === 2).map((p) => ({ x: p[0], y: p[1] }));
    const level = offsetLevels[idx];
    const name = panelNames[idx];

    const decor = {
      id: 'decor',
      afterDraw(chart: any) {
        const { ctx, chartArea: a, scales } = chart;
        const xs = scales.x, ys = scales.y;
        ctx.save();
        ctx.strokeStyle = '#b4b4b4';
        ctx.lineWidth = 1;
        ctx.beginPath();
        for (const v of xTickValues) {
          const px = Math.round(xs.getPixelForValue(v)) + 0.5;
          ctx.moveTo(px, a.bottom); ctx.lineTo(px, a.bottom - 4);
          ctx.moveTo(px, a.top); ctx.lineTo(px, a.top + 4);
        }
        for (const v of yTickValues) {
          const py = Math.round(ys.getPixelForValue(v)) + 0.5;
          ctx.moveTo(a.left, py); ctx.lineTo(a.left + 4, py);
          ctx.moveTo(a.right, py); ctx.lineTo(a.right - 4, py);
        }
        ctx.stroke();
        ctx.strokeStyle = '#8c8c8c';
        ctx.lineWidth = 1.2;
        ctx.strokeRect(a.left, a.top, a.right - a.left, a.bottom - a.top);
        // label box
        const bx = a.left + 6.5, by = a.top + 12.5, bw = 51, bh = 17;
        ctx.fillStyle = 'rgba(255,255,255,0.9)';
        ctx.fillRect(bx, by, bw, bh);
        ctx.strokeStyle = '#8c8c8c';
        ctx.lineWidth = 1;
        ctx.strokeRect(bx, by, bw, bh);
        ctx.fillStyle = '#111';
        ctx.font = '13.5px ' + MONO;
        ctx.textAlign = 'center';
        ctx.textBaseline = 'middle';
        ctx.fillText(name, bx + bw / 2, by + bh / 2 + 0.5);
        ctx.restore();
      },
    };

    const datasets: any[] = [
      {
        type: 'bar', data: runs, backgroundColor: GREEN, borderWidth: 0,
        barThickness: 5, borderRadius: 3, borderSkipped: false, order: 1,
      },
      {
        type: 'scatter', data: stars, backgroundColor: GREEN, borderColor: GREEN,
        pointRadius: 2.6, pointBorderWidth: 0, order: 0,
      },
      {
        type: 'line', data: [{ x: xRange[0], y: level }, { x: xRange[1], y: level }],
        borderColor: 'rgba(255,40,40,0.9)', borderWidth: 1.2, pointRadius: 0, fill: false, order: 2,
      },
      ...guideMags.map((g) => ({
        type: 'line', data: [{ x: g, y: yRange[0] }, { x: g, y: yRange[1] }],
        borderColor: 'rgba(120,120,255,0.7)', borderWidth: 1, borderDash: [1, 1.5],
        pointRadius: 0, fill: false, order: 3,
      })),
    ];

    const chart = new Chart(ref.current as HTMLCanvasElement, {
      type: 'bar',
      data: { datasets },
      options: {
        responsive: false,
        animation: false,
        events: [],
        layout: { padding: { left: 0, top: PAD_T, right: PAD_R, bottom: 0 } },
        plugins: { legend: { display: false }, tooltip: { enabled: false } },
        scales: {
          x: {
            type: 'linear', min: xRange[0], max: xRange[1], offset: false,
            grid: { display: false, drawTicks: false, offset: false },
            border: { display: false },
            afterBuildTicks: (s: any) => { s.ticks = xTickValues.map((v) => ({ value: v })); },
            afterFit: (s: any) => { s.height = PAD_B; },
            ticks: {
              autoSkip: false, maxRotation: 0, padding: 3, color: '#333',
              font: { family: SERIF, size: 11.5 }, callback: (v: any) => fmt(v),
            },
          },
          y: {
            type: 'linear', min: yRange[0], max: yRange[1], beginAtZero: false,
            grid: { display: false, drawTicks: false },
            border: { display: false },
            afterBuildTicks: (s: any) => { s.ticks = yTickValues.map((v) => ({ value: v })); },
            afterFit: (s: any) => { s.width = PAD_L; },
            ticks: {
              autoSkip: false, padding: 4, color: '#333',
              font: { family: SERIF, size: 11.5 }, callback: (v: any) => fmt(v),
            },
          },
        },
      },
      plugins: [decor],
    } as any);
    return () => chart.destroy();
  }, [idx]);

  return (
    <canvas
      ref={ref}
      width={W}
      height={H}
      style={{ position: 'absolute', left: PLOT_LEFTS[col] - PAD_L, top: PLOT_TOPS[row] - PAD_T, width: W, height: H }}
    />
  );
}

export default function App() {
  return (
    <div style={{ position: 'absolute', left: 0, top: 0, width: 847, height: 837, background: '#fff', overflow: 'hidden' }}>
      {panelNames.map((_, i) => <Panel key={i} idx={i} />)}
      <div
        style={{
          position: 'absolute', left: 442, top: 826, transform: 'translate(-50%, -50%)',
          fontFamily: SERIF, fontSize: 14, color: '#222', whiteSpace: 'nowrap',
        }}
      >
        Ks (2MASS) [mag]
      </div>
      <div
        style={{
          position: 'absolute', left: 14, top: 401, transform: 'translate(-50%, -50%) rotate(-90deg)',
          fontFamily: SERIF, fontSize: 14, color: '#222', whiteSpace: 'nowrap',
        }}
      >
        Ks (2MASS) - Ks (KEDFS) [mag]
      </div>
    </div>
  );
}
